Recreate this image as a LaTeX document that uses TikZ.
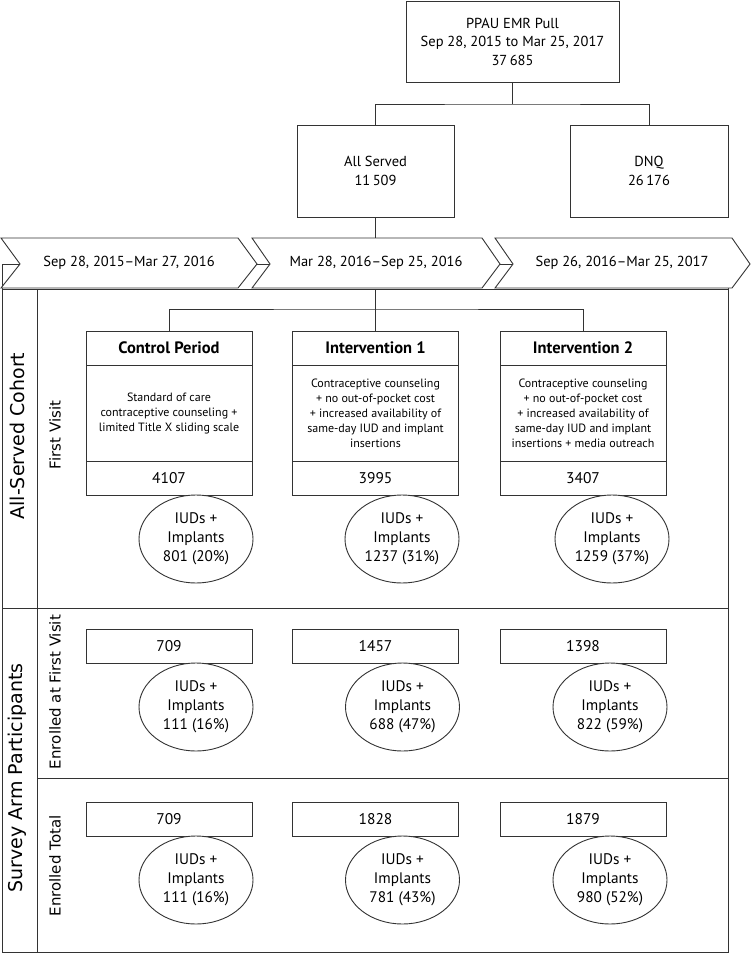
\documentclass[tikz,border=0pt]{standalone}
\usepackage{fontspec}
\setmainfont{PT Sans}
\newfontfamily\bandfont{DejaVu Sans}
\usetikzlibrary{shapes.geometric,positioning}
\definecolor{linegray}{gray}{0.2}

\begin{document}
\begin{tikzpicture}[x=1pt,y=-1pt,
  box/.style={draw=linegray,line width=0.9pt,fill=white,align=center,inner sep=0pt,outer sep=0pt},
  link/.style={draw=linegray,line width=0.7pt},
  txt/.style={font=\fontsize{14.5}{18.5}\selectfont},
  armhead/.style={box,minimum width=166pt,minimum height=34pt,font=\fontsize{16.5}{19}\selectfont\bfseries},
  armtext/.style={box,minimum width=166pt,minimum height=96pt,font=\fontsize{12}{15}\selectfont},
  countbox/.style={box,minimum width=166pt,minimum height=34pt,font=\fontsize{15.5}{18}\selectfont},
  uptake/.style={ellipse,draw=linegray,line width=0.9pt,fill=white,align=center,inner sep=0pt,minimum width=114pt,minimum height=88pt,font=\fontsize{15.3}{19}\selectfont},
  band/.style={font=\bandfont\fontsize{19}{21}\selectfont,rotate=90},
  subband/.style={font=\bandfont\fontsize{15}{17}\selectfont,rotate=90},
  chev/.style={draw=linegray,line width=0.9pt,fill=white}]
  \useasboundingbox (0,0) rectangle (751,953);

  % top of the flow
  \node[box,txt,minimum width=213pt,minimum height=81pt] (pull) at (512.5,41.5) {PPAU EMR Pull\\Sep 28, 2015 to Mar 25, 2017\\37\,685};
  \node[box,txt,minimum width=157pt,minimum height=92pt] (served) at (375.5,171) {All Served\\11\,509};
  \node[box,txt,minimum width=158pt,minimum height=92pt] (dnq) at (649,171) {DNQ\\26\,176};
  \coordinate (fork) at (512.5,104);
  \draw[link] (pull.south) -- (fork);
  \draw[link] (served.north) |- (fork) -| (dnq.north);

  % frame and rows
  \draw[link,line width=0.9pt] (2,264) rectangle (728,952);
  \draw[link,line width=0.9pt] (2,289) -- (728,289);
  \draw[link,line width=0.9pt] (2,608) -- (728,608);
  \draw[link,line width=0.9pt] (37,289) -- (37,952);
  \draw[link,line width=0.9pt] (37,778) -- (728,778);

  % periods
  \draw[chev] (1,238) -- (238,238) -- (257,264) -- (238,288) -- (1,288) -- (20,264) -- cycle;
  \draw[chev] (252,238) -- (482,238) -- (500,264) -- (482,288) -- (252,288) -- (270,264) -- cycle;
  \draw[chev] (495,238) -- (732,238) -- (750,264) -- (732,288) -- (495,288) -- (513,264) -- cycle;
  \node[txt] (per1) at (129,263) {Sep 28, 2015--Mar 27, 2016};
  \node[txt] (per2) at (376,263) {Mar 28, 2016--Sep 25, 2016};
  \node[txt] (per3) at (622,263) {Sep 26, 2016--Mar 25, 2017};
  \coordinate (per2top) at (375.5,238);
  \coordinate (per2bot) at (375.5,289);
  \draw[link] (served.south) -- (per2top);

  % row labels
  \node[band] (cohort) at (17,436) {All-Served Cohort};
  \node[subband] (visit) at (55,435) {First Visit};
  \node[band] (survey) at (17,778) {Survey Arm Participants};
  \node[subband] (enrvisit) at (55,692) {Enrolled at First Visit};
  \node[subband] (enrtotal) at (55,866) {Enrolled Total};

  % first visit
  \node[armhead] (ctlhead) at (169,348) {Control Period};
  \node[armtext,below=0pt of ctlhead] (ctltext) {Standard of care\\contraceptive counseling +\\limited Title X sliding scale};
  \node[countbox,below=0pt of ctltext] (ctlcount) {4107};
  \node[armhead] (int1head) at (375.5,348) {Intervention 1};
  \node[armtext,below=0pt of int1head] (int1text) {Contraceptive counseling\\+ no out-of-pocket cost\\+ increased availability of\\same-day IUD and implant\\insertions};
  \node[countbox,below=0pt of int1text] (int1count) {3995};
  \node[armhead] (int2head) at (583,348) {Intervention 2};
  \node[armtext,below=0pt of int2head] (int2text) {Contraceptive counseling\\+ no out-of-pocket cost\\+ increased availability of\\same-day IUD and implant\\insertions + media outreach};
  \node[countbox,below=0pt of int2text] (int2count) {3407};
  \coordinate (split) at (375.5,309);
  \draw[link] (per2bot) -- (int1head.north);
  \draw[link] (ctlhead.north) |- (split) -| (int2head.north);
  \node[uptake] (ctlfit) at (196,539) {IUDs +\\Implants\\801 (20\%)};
  \node[uptake] (int1fit) at (402,539) {IUDs +\\Implants\\1237 (31\%)};
  \node[uptake] (int2fit) at (612,539) {IUDs +\\Implants\\1259 (37\%)};

  % survey arm
  \foreach \i/\x/\n/\c in {1/169/709/111 (16\%), 2/375.5/1457/688 (47\%), 3/583/1398/822 (59\%)} {
    \node[countbox] (enr\i) at (\x,646) {\n};
    \node[uptake] (enrfit\i) at (\x+27,707) {IUDs +\\Implants\\\c};
  }
  \foreach \i/\x/\n/\c in {1/169/709/111 (16\%), 2/375.5/1828/781 (43\%), 3/583/1879/980 (52\%)} {
    \node[countbox] (tot\i) at (\x,819.5) {\n};
    \node[uptake] (totfit\i) at (\x+27,880) {IUDs +\\Implants\\\c};
  }
\end{tikzpicture}
\end{document}
